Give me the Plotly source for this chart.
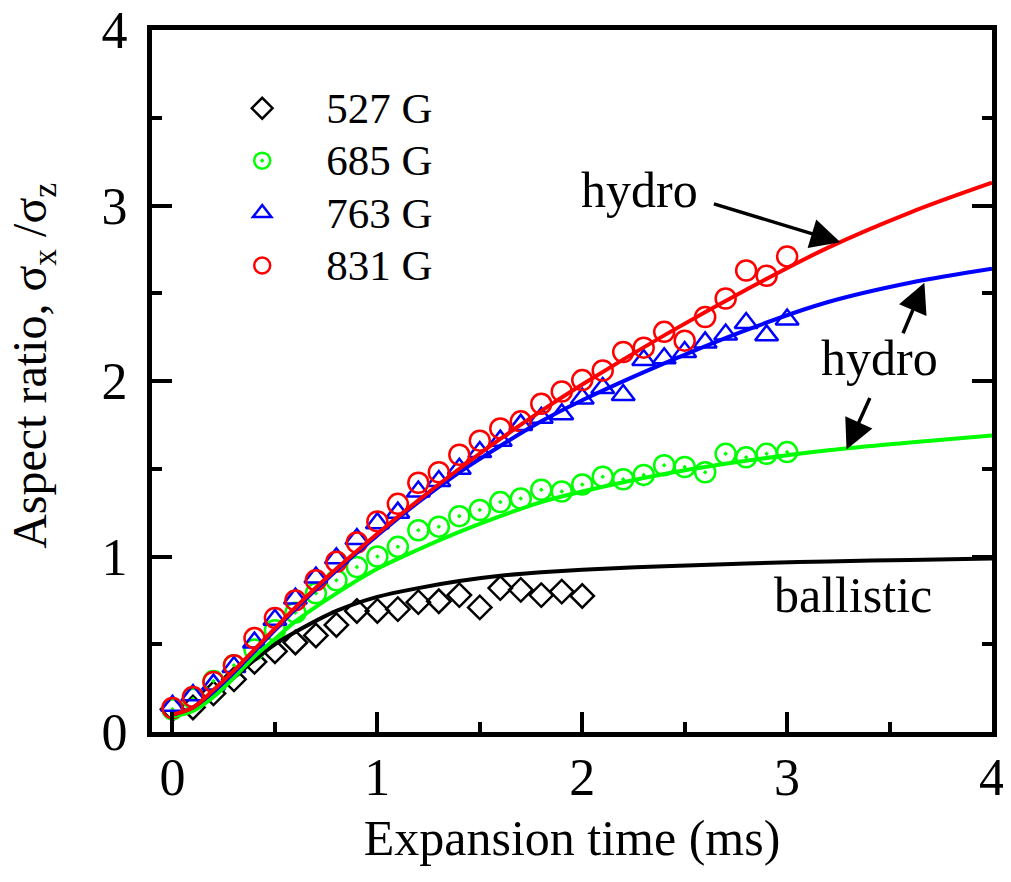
import plotly.graph_objects as go

# medidas (527 G, 685 G, 763 G, 831 G)
t_527 = [round(0.1 * i, 1) for i in range(21)]
t_hi = [round(0.1 * i, 1) for i in range(31)]

r_527 = [0.13, 0.14, 0.22, 0.30, 0.40, 0.46, 0.51, 0.55, 0.61, 0.69, 0.69,
         0.70, 0.74, 0.745, 0.78, 0.71, 0.82, 0.81, 0.78, 0.80, 0.775]
r_685 = [0.13, 0.19, 0.29, 0.38, 0.47, 0.58, 0.68, 0.79, 0.865, 0.94, 1.0,
         1.055, 1.15, 1.17, 1.23, 1.265, 1.31, 1.33, 1.38, 1.37, 1.41,
         1.455, 1.44, 1.465, 1.52, 1.51, 1.48, 1.585, 1.565, 1.585, 1.595]
r_763 = [0.15, 0.21, 0.27, 0.37, 0.51, 0.64, 0.76, 0.88, 0.99, 1.1, 1.19,
         1.25, 1.37, 1.43, 1.50, 1.595, 1.66, 1.75, 1.79, 1.81, 1.9,
         1.96, 1.92, 2.12, 2.13, 2.165, 2.22, 2.265, 2.33, 2.26, 2.35]
r_831 = [0.137, 0.20, 0.285, 0.38, 0.535, 0.65, 0.75, 0.865, 0.97, 1.08, 1.20,
         1.30, 1.42, 1.48, 1.58, 1.66, 1.73, 1.77, 1.87, 1.94, 2.005,
         2.06, 2.165, 2.19, 2.28, 2.23, 2.365, 2.47, 2.63, 2.60, 2.71]

# curvas teoricas
t_curve = [0, 0.1, 0.2, 0.3, 0.4, 0.5, 0.6, 0.8, 1.0, 1.2, 1.4, 1.6, 1.8,
           2.0, 2.4, 2.8, 3.2, 3.6, 4.0]
ballistic = [0.10, 0.13, 0.21, 0.31, 0.41, 0.50, 0.57, 0.69, 0.77, 0.82, 0.86,
             0.89, 0.91, 0.925, 0.945, 0.96, 0.972, 0.98, 0.988]
hydro_685 = [0.09, 0.12, 0.20, 0.31, 0.43, 0.53, 0.63, 0.79, 0.93, 1.04, 1.14,
             1.23, 1.31, 1.37, 1.47, 1.545, 1.605, 1.65, 1.69]
hydro_763 = [0.10, 0.14, 0.23, 0.34, 0.46, 0.58, 0.70, 0.92, 1.12, 1.31, 1.48,
             1.63, 1.77, 1.89, 2.10, 2.29, 2.45, 2.56, 2.64]
hydro_831 = [0.10, 0.14, 0.24, 0.35, 0.47, 0.59, 0.71, 0.93, 1.13, 1.32, 1.50,
             1.67, 1.83, 1.98, 2.26, 2.52, 2.76, 2.96, 3.13]

FONT = "Liberation Serif"
GREEN = "#00ff00"


def leg(s):
    return "<span style='font-size:43px'>" + s + "</span>"


fig = go.Figure()

# puntos
fig.add_trace(go.Scatter(x=t_527, y=r_527, mode="markers", name=leg("527 G"),
                         marker=dict(symbol="diamond-open", size=18, color="black",
                                     line=dict(width=2.5))))
fig.add_trace(go.Scatter(x=t_hi, y=r_685, mode="markers", name=leg("685 G"),
                         marker=dict(symbol="circle-open-dot", size=20, color=GREEN,
                                     line=dict(width=2.5))))
fig.add_trace(go.Scatter(x=t_hi, y=r_763, mode="markers", name=leg("763 G"),
                         marker=dict(symbol="triangle-up-open", size=20, color="blue",
                                     line=dict(width=2.5))))
fig.add_trace(go.Scatter(x=t_hi, y=r_831, mode="markers", name=leg("831 G"),
                         marker=dict(symbol="circle-open", size=20, color="red",
                                     line=dict(width=2.5))))

# lineas
for yy, col in [(ballistic, "black"), (hydro_685, GREEN),
                (hydro_763, "blue"), (hydro_831, "red")]:
    fig.add_trace(go.Scatter(x=t_curve, y=yy, mode="lines", showlegend=False,
                             line=dict(color=col, width=4, shape="spline")))

# textos y flechas
txt = dict(font=dict(family=FONT, size=50, color="black"), showarrow=False)
fig.add_annotation(x=2.28, y=3.09, text="hydro", **txt)
fig.add_annotation(x=3.45, y=2.13, text="hydro", **txt)
fig.add_annotation(x=3.32, y=0.78, text="ballistic", **txt)

arr = dict(text="", showarrow=True, arrowhead=2, arrowsize=1.7, arrowwidth=3.5,
           arrowcolor="black", standoff=0)
fig.add_annotation(x=3.26, y=2.79, ax=-128, ay=-39, **arr)
fig.add_annotation(x=3.67, y=2.56, ax=-22, ay=52, **arr)
fig.add_annotation(x=3.29, y=1.61, ax=24, ay=-53, **arr)

# titulo del eje y como anotacion (para poder acercarlo al borde)
fig.add_annotation(xref="paper", yref="paper", x=-0.141, y=0.521,
                   text="Aspect ratio, σ<sub>x</sub> /σ<sub>z</sub>", textangle=-90,
                   showarrow=False, xanchor="center", yanchor="middle",
                   font=dict(family=FONT, size=48, color="black"))

axis_common = dict(showgrid=False, zeroline=False, showline=True, linecolor="black",
                   linewidth=5, ticks="inside", ticklen=20, tickwidth=4,
                   tickcolor="black", dtick=1, automargin=False,
                   ticklabeloverflow="allow",
                   tickfont=dict(family=FONT, size=52, color="black"),
                   minor=dict(ticks="inside", ticklen=10, tickwidth=4,
                              tickcolor="black", dtick=0.5))

fig.update_xaxes(range=[-0.1, 4], mirror=True, tick0=0, ticklabelstandoff=-4,
                 title=dict(text="Expansion time (ms)", standoff=16,
                            font=dict(family=FONT, size=50, color="black")),
                 **axis_common)
fig.update_yaxes(range=[0, 4], mirror="ticks", tick0=0, ticklabelstandoff=9,
                 **axis_common)

fig.update_layout(
    width=1011, height=882,
    margin=dict(l=144, r=27, t=22, b=158),
    plot_bgcolor="white", paper_bgcolor="white",
    font=dict(family=FONT, color="black"),
    legend=dict(x=0.055, y=0.933, xanchor="left", yanchor="top",
                font=dict(family=FONT, size=38, color="black"),
                bgcolor="rgba(0,0,0,0)", itemwidth=118, tracegroupgap=0),
)

fig.write_html("out.html")
